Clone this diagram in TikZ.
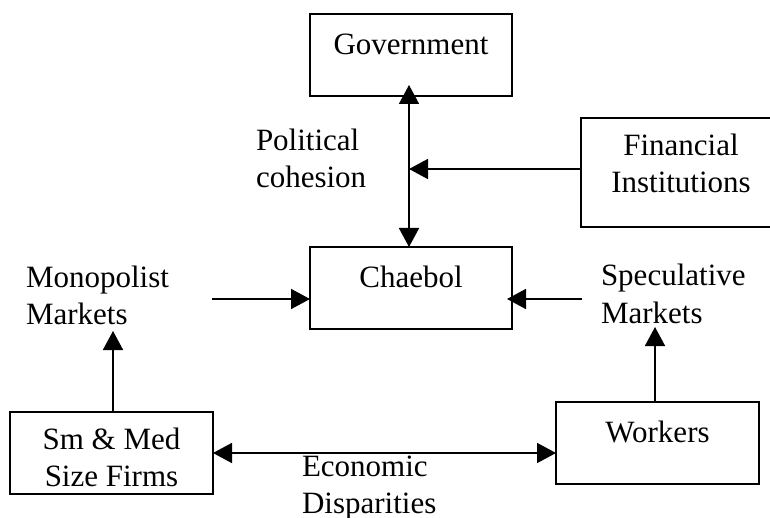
\documentclass[tikz,border=0pt]{standalone}
\usepackage{fontspec}
\setmainfont{Liberation Serif}
\usetikzlibrary{arrows.meta}
\newcommand\boxtext[4]{\parbox[c][#2][t]{#1}{\centering\rule{0pt}{#3}#4}}
\begin{document}
\begin{tikzpicture}[x=1pt,y=-1pt,
  every node/.style={font=\fontsize{31}{37}\selectfont, inner sep=0pt, outer sep=0pt},
  box/.style={draw, line width=1.6pt},
  lbl/.style={anchor=north west, align=left},
  arr/.style={line width=1.6pt, -{Triangle[length=19pt,width=20pt]}},
  darr/.style={line width=1.6pt, {Triangle[length=19pt,width=20pt]}-{Triangle[length=19pt,width=20pt]}}]
\fill[white] (0,0) rectangle (770,518);
\useasboundingbox (0,0) rectangle (770,518);

% boxes
\node[box] (gov) at (411,55) {\boxtext{202pt}{82pt}{41pt}{Government}};
\node[box] (fin) at (681,172.5) {\boxtext{200pt}{109pt}{38pt}{Financial\\Institutions}};
\node[box] (chaebol) at (411,288) {\boxtext{202pt}{82pt}{40pt}{Chaebol}};
\node[box] (sm) at (111.5,453) {\boxtext{203pt}{82pt}{37pt}{Sm \& Med\\Size Firms}};
\node[box] (workers) at (657.5,443) {\boxtext{203pt}{82pt}{40pt}{Workers}};

% labels
\node[lbl] (pol) at (256,126) {\rule{0pt}{25pt}Political\\cohesion};
\node[lbl] (mono) at (26,262) {\rule{0pt}{25pt}Monopolist\\Markets};
\node[lbl] (spec) at (601,261) {\rule{0pt}{25pt}Speculative\\Markets};
\node[lbl] (econ) at (302,451) {\rule{0pt}{25pt}Economic\\Disparities};

% connectors
\coordinate (vj) at (409,169);
\draw[darr, shorten <=-11pt] (gov.south -| vj) -- (chaebol.north -| vj);
\draw[arr] (fin.west |- vj) -- (vj);
\coordinate (mstart) at (212,299);
\draw[arr] (mstart) -- (mstart -| chaebol.west);
\coordinate (sstart) at (582,299);
\draw[arr, shorten >=-5pt] (sstart) -- (sstart -| chaebol.east);
\coordinate (mtip) at (113,331);
\draw[arr] (sm.north -| mtip) -- (mtip);
\coordinate (stip) at (655,327);
\draw[arr] (workers.north -| stip) -- (stip);
\draw[darr] (sm.east) -- (sm.east -| workers.west);
\end{tikzpicture}
\end{document}
